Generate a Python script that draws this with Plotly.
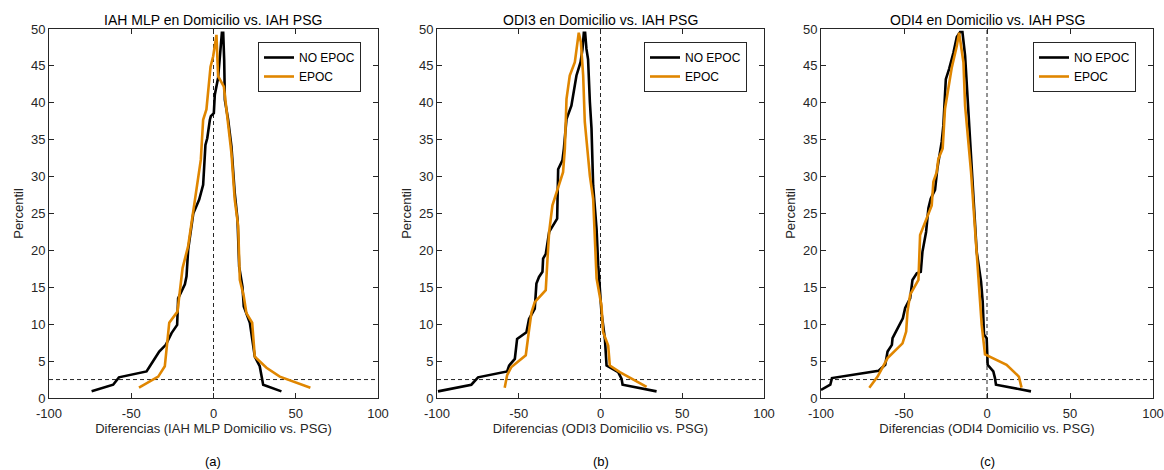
import plotly.graph_objects as go

# ---------------- data ----------------
# Panel (a): IAH MLP
a_no_x = [-74.1, -61.0, -57.5, -40.7, -38.7, -33.0, -29.0, -25.5, -22.1, -21.5, -17.4, -16.4, -15.4, -12.3, -8.7, -6.3,
          -4.9, -3.8, -2.2, -1.6, 0.2, 0.8, 2.8, 3.8, 5.1, 5.9, 6.5, 6.9, 8.9, 10.9, 12.9, 14.6, 15.6, 17.6, 18.4,
          22.1, 25.1, 28.1, 30.2, 41.3]
a_no_y = [0.9, 1.8, 2.8, 3.6, 4.3, 6.3, 7.2, 8.8, 9.9, 13.5, 15.4, 16.5, 20.1, 25.0, 26.9, 28.9,
          34.3, 35.2, 37.7, 38.2, 38.6, 41.1, 43.4, 45.8, 49.5, 49.5, 45.8, 40.4, 37.7, 34.1, 27.8, 24.2, 17.8, 15.1, 12.4,
          10.2, 5.6, 4.3, 1.8, 0.9]
a_ep_x = [-45.3, -33.6, -29.6, -26.9, -21.9, -18.8, -15.4, -11.7, -10.3, -7.7, -6.3, -4.3, -1.8, -0.2, 1.8,
          2.8, 6.3, 7.3, 10.9, 12.9, 15.0, 16.0, 18.4, 20.0, 23.5, 25.1, 32.2, 40.3, 58.9]
a_ep_y = [1.4, 2.9, 4.3, 10.2, 11.7, 17.6, 20.6, 26.0, 28.7, 32.3, 37.7, 39.1, 44.9, 46.3, 49.2,
          43.6, 42.2, 40.4, 33.2, 26.9, 23.3, 16.0, 13.8, 11.5, 10.2, 5.6, 4.1, 2.9, 1.4]

# Panel (b): ODI3
b_no_x = [-99.4, -79.0, -74.9, -57.1, -55.9, -52.4, -51.0, -45.3, -43.7, -40.2, -39.2, -37.6, -35.5, -35.1, -33.5,
          -31.4, -29.0, -26.5, -25.9, -23.3, -22.4, -20.8, -17.8, -16.3, -14.7, -12.2, -11.0, -10.2, -9.4, -8.6,
          -7.6, -6.5, -5.5, -4.5, -2.4, -1.4, -0.4, 0.6, 2.7, 3.7, 10.8, 12.9, 13.5, 34.3]
b_no_y = [0.9, 1.8, 2.8, 3.6, 4.4, 5.3, 8.0, 8.9, 10.7, 12.1, 15.5, 16.4, 17.1, 18.9, 19.5,
          22.5, 23.4, 24.3, 31.0, 32.2, 33.8, 37.8, 39.6, 41.4, 43.7, 45.5, 47.3, 49.5, 49.5, 47.3,
          45.9, 40.1, 36.5, 28.8, 22.9, 18.0, 15.3, 11.6, 8.0, 4.4, 3.5, 2.6, 1.8, 0.9]
b_ep_x = [-58.6, -57.1, -54.5, -45.7, -43.7, -42.2, -40.2, -33.5, -32.4, -31.4, -29.4, -22.9, -21.8, -20.8, -18.8,
          -15.7, -13.3, -12.0, -10.6, -9.6, -6.5, -4.5, -2.4, 0.6, 1.6, 4.7, 5.7, 11.8, 28.2]
b_ep_y = [1.4, 3.1, 4.2, 5.8, 9.2, 11.6, 13.0, 14.6, 18.9, 22.5, 26.1, 30.6, 33.8, 40.5, 43.7,
          45.5, 49.5, 48.2, 43.7, 37.4, 30.1, 27.0, 16.2, 12.5, 8.9, 7.1, 4.4, 3.5, 1.5]

# Panel (c): ODI4
c_no_x = [-100.0, -94.4, -93.4, -65.3, -61.3, -59.9, -57.3, -56.9, -50.7, -49.3, -46.3, -44.9, -42.3, -39.9, -38.9,
          -36.7, -35.3, -33.9, -31.3, -29.9, -27.3, -26.3, -24.8, -22.8, -20.2, -18.2, -16.2, -14.8, -13.2, -11.2,
          -9.6, -8.6, -6.2, -3.6, -2.6, -1.8, -0.2, 0.4, 3.8, 4.8, 5.4, 26.5]
c_no_y = [1.1, 1.8, 2.7, 3.7, 4.5, 6.3, 7.2, 8.1, 10.8, 12.2, 13.5, 16.0, 16.9, 17.1, 19.8,
          22.5, 25.7, 27.0, 28.2, 31.1, 34.7, 36.9, 43.2, 44.6, 46.8, 48.9, 49.6, 49.6, 46.4, 38.7,
          32.9, 28.4, 19.8, 15.8, 13.1, 8.6, 8.1, 4.5, 3.6, 2.7, 1.8, 0.9]
c_ep_x = [-70.9, -65.9, -59.9, -50.9, -48.7, -47.9, -46.3, -41.3, -40.3, -37.3, -33.3, -32.3, -30.3, -29.3, -26.7,
          -25.3, -22.6, -21.2, -18.2, -16.8, -14.2, -13.2, -9.6, -6.8, -5.2, -3.2, -1.2, 11.8, 19.2, 20.8]
c_ep_y = [1.4, 2.9, 5.4, 7.4, 9.0, 11.7, 14.0, 16.0, 22.1, 23.9, 26.1, 29.3, 30.6, 32.4, 33.8,
          39.2, 42.8, 44.8, 47.7, 49.5, 45.5, 39.6, 30.6, 22.1, 16.2, 9.9, 5.9, 4.5, 2.9, 1.4]

titles = ["IAH MLP en Domicilio vs. IAH PSG", "ODI3 en Domicilio vs. IAH PSG", "ODI4 en Domicilio vs. IAH PSG"]
xlabels = ["Diferencias (IAH MLP Domicilio vs. PSG)", "Diferencias (ODI3 Domicilio vs. PSG)",
           "Diferencias (ODI4 Domicilio vs. PSG)"]
letters = ["(a)", "(b)", "(c)"]
series_names = ["NO EPOC", "EPOC"]
x_ticks = [-100, -50, 0, 50, 100]
x_ticktext = ["-100", "-50", "0", "50", "100"]
y_ticks = [0, 5, 10, 15, 20, 25, 30, 35, 40, 45, 50]
ref_percentile = 2.5

panels = [(a_no_x, a_no_y, a_ep_x, a_ep_y), (b_no_x, b_no_y, b_ep_x, b_ep_y), (c_no_x, c_no_y, c_ep_x, c_ep_y)]

# ---------------- layout ----------------
W, H = 1164, 470
x_px = [(49, 378), (437, 764), (821, 1153)]
y_top, y_bot = 29, 398
ydom = [1 - y_bot / H, 1 - y_top / H]
BLACK = "#000000"
ORANGE = "#E08600"
AX = "#262626"
FONT = "Liberation Sans, Arial, Helvetica, sans-serif"

fig = go.Figure()
annotations = []
shapes = []
for i, (nx, ny, ex, ey) in enumerate(panels):
    k = "" if i == 0 else str(i + 1)
    xa, ya = "x" + k, "y" + k
    leg = "legend" + k
    fig.add_trace(go.Scatter(x=nx, y=ny, mode="lines", name=series_names[0], xaxis=xa, yaxis=ya,
                             line=dict(color=BLACK, width=2.6), legend=leg))
    fig.add_trace(go.Scatter(x=ex, y=ey, mode="lines", name=series_names[1], xaxis=xa, yaxis=ya,
                             line=dict(color=ORANGE, width=2.6), legend=leg))
    xd = [x_px[i][0] / W, x_px[i][1] / W]
    common = dict(showline=True, linecolor=AX, linewidth=1, mirror="ticks", ticks="inside", ticklen=5,
                  tickcolor=AX, tickfont=dict(family=FONT, size=13, color=AX), showgrid=False, zeroline=False,
                  automargin=False)
    fig.layout["xaxis" + k] = dict(domain=xd, range=[-100, 100], tickvals=x_ticks, ticktext=x_ticktext, anchor=ya,
                                   ticklabelstandoff=3,
                                   title=dict(text=xlabels[i], font=dict(family=FONT, size=13, color=AX), standoff=1),
                                   **common)
    fig.layout["yaxis" + k] = dict(domain=ydom, range=[0, 50], tickvals=y_ticks, anchor=xa,
                                   title=dict(text="Percentil", font=dict(family=FONT, size=13, color=AX), standoff=4),
                                   **common)
    fig.layout[leg] = dict(x=(x_px[i][1] - 17) / W, y=1 - 42 / H, xanchor="right", yanchor="top",
                           bgcolor="white", bordercolor=AX, borderwidth=1,
                           font=dict(family=FONT, size=12, color="#000"), tracegroupgap=0)
    # reference lines
    shapes.append(dict(type="line", xref=xa, yref=ya, x0=-100, x1=100, y0=ref_percentile, y1=ref_percentile,
                       line=dict(color=AX, width=1, dash="4px,3px"), layer="below"))
    shapes.append(dict(type="line", xref=xa, yref=ya, x0=0, x1=0, y0=0, y1=50,
                       line=dict(color=AX, width=1, dash="4px,3px"), layer="below"))
    cx = (x_px[i][0] + x_px[i][1]) / 2 / W
    annotations.append(dict(text=titles[i], x=cx, y=1 - 20 / H, xref="paper", yref="paper", showarrow=False,
                            xanchor="center", yanchor="middle", font=dict(family=FONT, size=14, color="#000")))
    annotations.append(dict(text=letters[i], x=cx, y=1 - 461 / H, xref="paper", yref="paper", showarrow=False,
                            xanchor="center", yanchor="middle", font=dict(family=FONT, size=13, color="#000")))

fig.update_layout(width=W, height=H, margin=dict(l=0, r=0, t=0, b=0, autoexpand=False), plot_bgcolor="white",
                  paper_bgcolor="white", showlegend=True, annotations=annotations, shapes=shapes)
fig.write_html("out.html")
